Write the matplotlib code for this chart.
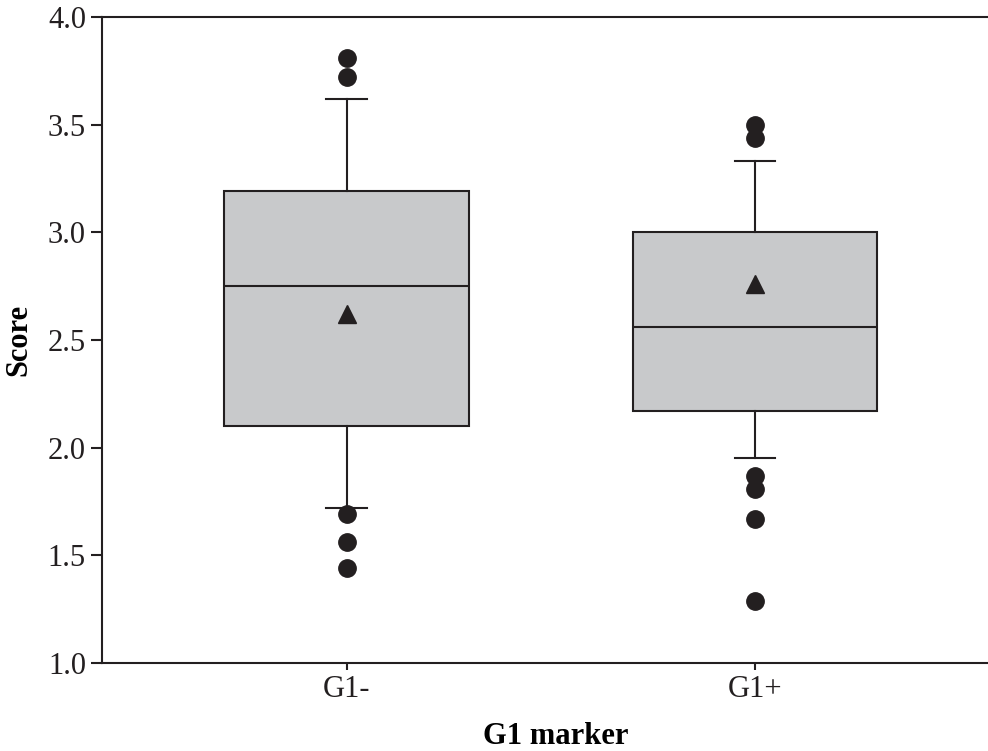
import matplotlib.pyplot as plt

# 数据
groups = ['G1-', 'G1+']
q1 = [2.10, 2.17]
med = [2.75, 2.56]
q3 = [3.19, 3.00]
whislo = [1.72, 1.95]
whishi = [3.62, 3.33]
means = [2.62, 2.76]
outliers = [
    [3.81, 3.72, 1.69, 1.56, 1.44],
    [3.50, 3.44, 1.87, 1.81, 1.67, 1.29],
]

plt.rcParams['font.family'] = ['Liberation Serif', 'DejaVu Serif']

fig = plt.figure(figsize=(9.88, 7.51), dpi=100)
ax = fig.add_axes([0.1032, 0.1172, 0.8968, 0.8602])

stats = []
for i in range(len(groups)):
    stats.append(dict(med=med[i], q1=q1[i], q3=q3[i], whislo=whislo[i],
                      whishi=whishi[i], mean=means[i], fliers=outliers[i],
                      label=groups[i]))

ax.bxp(stats, positions=[1, 2], widths=0.6, patch_artist=True,
       showmeans=True,
       boxprops=dict(facecolor='#c8c9cb', edgecolor='#231f20', linewidth=1.5),
       medianprops=dict(color='#231f20', linewidth=1.5),
       whiskerprops=dict(color='#231f20', linewidth=1.5),
       capprops=dict(color='#231f20', linewidth=1.5),
       capwidths=0.1,
       meanprops=dict(marker='^', markerfacecolor='#231f20',
                      markeredgecolor='#231f20', markersize=13),
       flierprops=dict(marker='o', markerfacecolor='#231f20',
                       markeredgecolor='#231f20', markersize=12.5))

ax.set_xlim(0.4, 2.571)
ax.set_ylim(1.0, 4.0)
ax.set_yticks([1.0, 1.5, 2.0, 2.5, 3.0, 3.5, 4.0])
ax.set_yticklabels(['1.0', '1.5', '2.0', '2.5', '3.0', '3.5', '4.0'])
ax.spines['right'].set_visible(False)
for s in ['left', 'top', 'bottom']:
    ax.spines[s].set_linewidth(1.5)
    ax.spines[s].set_color('#231f20')
ax.tick_params(axis='both', labelsize=22, colors='#231f20', width=1.5)
ax.tick_params(axis='y', length=8)
ax.tick_params(axis='x', length=5)

ax.set_xlabel('G1 marker', fontsize=22, fontweight='bold')
ax.set_ylabel('Score', fontsize=22, fontweight='bold')
ax.xaxis.set_label_coords(0.512, -0.091)
ax.yaxis.set_label_coords(-0.077, 0.5)

fig.savefig('out.png', dpi=100)
